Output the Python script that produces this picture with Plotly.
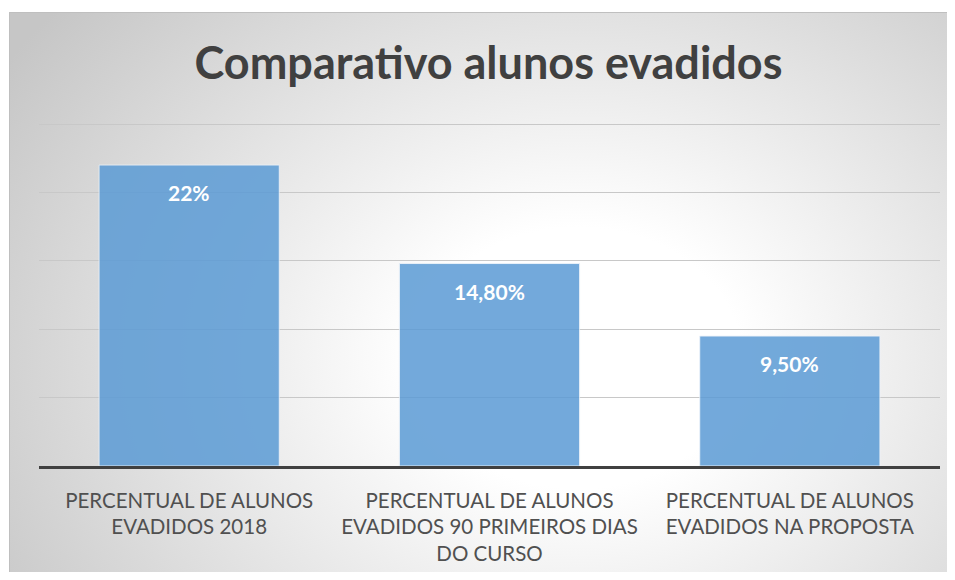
import base64
import plotly.graph_objects as go

# ---- data ----
categories = [
    "PERCENTUAL DE ALUNOS<br>EVADIDOS 2018",
    "PERCENTUAL DE ALUNOS<br>EVADIDOS 90 PRIMEIROS DIAS<br>DO CURSO",
    "PERCENTUAL DE ALUNOS<br>EVADIDOS NA PROPOSTA",
]
values = [22.0, 14.8, 9.5]
value_labels = ["22%", "14,80%", "9,50%"]
title_text = "Comparativo alunos evadidos"

# page has an 8px body margin, so the figure is offset by 8px and kept
# small enough that the page does not overflow the 955x580 window
W, H = 939, 564
L, R, T, B = 31, 7, 113, 106
pw, ph = W - L - R, H - T - B
ymax = ph / (342 / 25)

svg = f"""<svg xmlns='http://www.w3.org/2000/svg' width='{W}' height='{H}' viewBox='0 0 {W} {H}' preserveAspectRatio='none'>
<defs>
<radialGradient id='g' gradientUnits='userSpaceOnUse' cx='570' cy='350' r='680'
  gradientTransform='translate(570 350) scale(1 0.8) translate(-570 -350)'>
<stop offset='0' stop-color='#ffffff'/>
<stop offset='0.24' stop-color='#ffffff'/>
<stop offset='1' stop-color='#c6c6c6'/>
</radialGradient>
</defs>
<rect x='0' y='0' width='{W}' height='{H}' fill='#ffffff'/>
<rect x='1' y='4' width='{W}' height='{H}' fill='url(#g)'/>
<path d='M1.5 {H} V4.5 H{W}' fill='none' stroke='#bfbfbf' stroke-width='1'/>
</svg>"""
src = "data:image/svg+xml;base64," + base64.b64encode(svg.encode()).decode()

fig = go.Figure()
fig.add_trace(go.Bar(
    x=categories, y=values,
    marker=dict(color="#5b9bd5", opacity=0.85,
                line=dict(color="rgba(235,242,250,0.9)", width=1)),
    width=0.6, hoverinfo="skip",
))

for c, v, t in zip(categories, values, value_labels):
    fig.add_annotation(x=c, y=v, xref="x", yref="y", text=f"<b>{t}</b>",
                       showarrow=False, yanchor="top", yshift=-13,
                       font=dict(family="Lato", size=21, color="#ffffff"))

fig.add_layout_image(dict(
    source=src, xref="paper", yref="paper",
    x=-L / pw, y=1 + T / ph, sizex=W / pw, sizey=H / ph,
    xanchor="left", yanchor="top", sizing="stretch", layer="below",
))

fig.update_layout(
    width=W, height=H,
    margin=dict(l=L, r=R, t=T, b=B, pad=0),
    paper_bgcolor="rgba(0,0,0,0)", plot_bgcolor="rgba(0,0,0,0)",
    showlegend=False,
    title=dict(text=f"<b>{title_text}</b>", xref="container",
               x=(488.5 - 8) / W, xanchor="center",
               y=1 - 55 / H, yanchor="middle",
               font=dict(family="Lato", size=45, color="#404040")),
    bargap=0.4,
)
fig.update_xaxes(
    showline=True, linecolor="#404040", linewidth=3, mirror=False,
    showgrid=False, ticks="outside", ticklen=14, tickcolor="rgba(0,0,0,0)",
    tickfont=dict(family="Lato", size=20.5, color="#505050"),
    fixedrange=True,
)
fig.update_yaxes(
    range=[0, ymax], dtick=5, showticklabels=False, showgrid=True,
    gridcolor="#c8c8c8", gridwidth=1, zeroline=False, showline=False,
    fixedrange=True,
)
fig.write_html("out.html")
